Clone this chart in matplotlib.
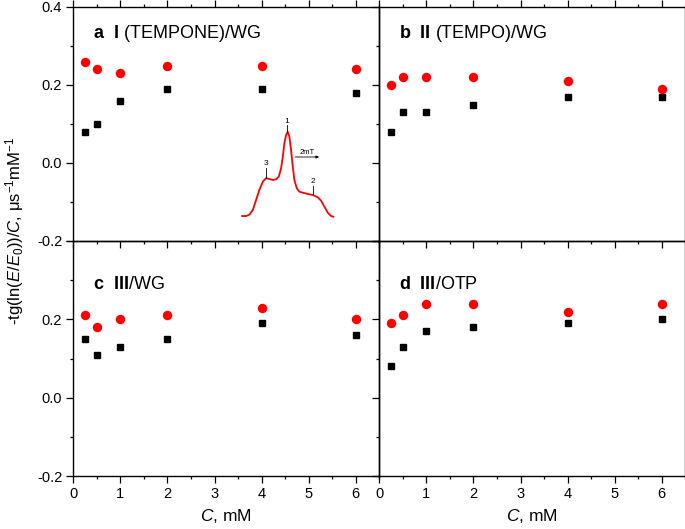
import matplotlib
matplotlib.use("Agg")
import matplotlib.pyplot as plt
from matplotlib.ticker import MultipleLocator, FixedLocator, FixedFormatter

plt.rcParams['font.family'] = ['Liberation Sans', 'DejaVu Sans']
plt.rcParams['mathtext.fontset'] = 'custom'
plt.rcParams['mathtext.rm'] = 'Liberation Sans'
plt.rcParams['mathtext.it'] = 'Liberation Sans:italic'
plt.rcParams['mathtext.bf'] = 'Liberation Sans:bold'

# ---- data ----
conc = [0.25, 0.5, 1, 2, 4, 6]
a_red = [0.26, 0.24, 0.23, 0.25, 0.25, 0.24]
a_black = [0.08, 0.10, 0.16, 0.19, 0.19, 0.18]
b_red = [0.20, 0.22, 0.22, 0.22, 0.21, 0.19]
b_black = [0.08, 0.13, 0.13, 0.15, 0.17, 0.17]
c_red = [0.21, 0.18, 0.20, 0.21, 0.23, 0.20]
c_black = [0.15, 0.11, 0.13, 0.15, 0.19, 0.16]
d_red = [0.19, 0.21, 0.24, 0.24, 0.22, 0.24]
d_black = [0.08, 0.13, 0.17, 0.18, 0.19, 0.20]

panel_letters = ['a', 'b', 'c', 'd']
panel_bold = ['I', 'II', 'III', 'III']
panel_names = [' (TEMPONE)/WG', ' (TEMPO)/WG', '/WG', '/OTP']

# traced ESR spectrum inset (panel a data coordinates)
esr_x = [3.585, 3.670, 3.740, 3.812, 3.882, 3.952, 4.025, 4.095, 4.165, 4.237,
         4.307, 4.365, 4.414, 4.450, 4.484, 4.520, 4.556, 4.590, 4.626, 4.662,
         4.696, 4.747, 4.802, 4.875, 4.981, 5.087, 5.193, 5.264, 5.334, 5.406,
         5.476, 5.525]
esr_y = [-0.136, -0.136, -0.1325, -0.1205, -0.095, -0.0692, -0.048, -0.039,
         -0.041, -0.0436, -0.0418, -0.035, -0.0136, 0.016, 0.0505, 0.0718,
         0.080, 0.0674, 0.0333, -0.0095, -0.0436, -0.0649, -0.0736, -0.0761,
         -0.0795, -0.082, -0.088, -0.0967, -0.112, -0.1274, -0.136, -0.1377]

W, H = 685, 529
fig = plt.figure(figsize=(W / 100, H / 100), dpi=100)

lx0, rx0, pw = 73.3, 379.3, 306.0
ty0, by0, ph = 7.0, 241.0, 235.0

def fbox(x0, y0, w, h):
    return [x0 / W, 1 - (y0 + h) / H, w / W, h / H]

axes = [fig.add_axes(fbox(lx0, ty0, pw, ph - 1)),
        fig.add_axes(fbox(rx0, ty0, pw, ph - 1)),
        fig.add_axes(fbox(lx0, by0, pw, ph)),
        fig.add_axes(fbox(rx0, by0, pw, ph))]

reds = [a_red, b_red, c_red, d_red]
blacks = [a_black, b_black, c_black, d_black]

for i, ax in enumerate(axes):
    ax.set_facecolor('none')
    ax.plot(conc, blacks[i], 's', color='black', markersize=5, zorder=3)
    ax.plot(conc, reds[i], 'o', color='#ff0000', markersize=6.8, zorder=3,
            markeredgewidth=0)
    ax.set_xlim(0, 6.5)
    ax.set_ylim(-0.2, 0.4)
    for sp in ax.spines.values():
        sp.set_linewidth(1.0)
    ax.xaxis.set_major_locator(MultipleLocator(1))
    ax.xaxis.set_minor_locator(MultipleLocator(0.5))
    ax.yaxis.set_major_locator(FixedLocator([-0.2, 0.0, 0.2, 0.4]))
    ax.yaxis.set_minor_locator(MultipleLocator(0.1))
    ax.tick_params(which='both', direction='out', labelsize=10.5, pad=3,
                   width=0.9)
    ax.tick_params(which='major', length=5)
    ax.tick_params(which='minor', length=2.5)
    top_row = i < 2
    left_col = i % 2 == 0
    if top_row:
        ax.tick_params(axis='x', which='both', top=True, labelbottom=False)
    if not left_col:
        ax.tick_params(axis='y', labelleft=False)
    if left_col:
        if top_row:
            ax.yaxis.set_major_formatter(FixedFormatter(['-0.2', '0.0', '0.2', '0.4']))
        else:
            ax.yaxis.set_major_formatter(FixedFormatter(['-0.2', '0.0', '0.2', '']))
    if not top_row:
        ax.set_xlabel('$C$, mM', fontsize=12.5, labelpad=4)
    ty = 0.321 if top_row else 0.277
    ax.text(0.42, ty,
            r'$\mathbf{' + panel_letters[i] + r'}$  $\mathbf{' + panel_bold[i] + '}$' + panel_names[i],
            fontsize=13, va='baseline', ha='left')

# inset ESR spectrum in panel a
ax = axes[0]
ax.plot(esr_x, esr_y, color='#ff0000', lw=1.3, zorder=2)
ax.plot([4.53, 4.53], [0.080, 0.097], color='black', lw=0.6)
ax.text(4.53, 0.098, '1', fontsize=6, ha='center', va='bottom')
ax.plot([4.10, 4.10], [-0.039, -0.012], color='black', lw=0.6)
ax.text(4.10, -0.011, '3', fontsize=6, ha='center', va='bottom')
ax.plot([5.09, 5.09], [-0.080, -0.058], color='black', lw=0.6)
ax.text(5.09, -0.057, '2', fontsize=6, ha='center', va='bottom')
ax.annotate('', xy=(5.22, 0.0154), xytext=(4.71, 0.0154),
            arrowprops=dict(arrowstyle='-|>', lw=0.6, color='black',
                            mutation_scale=4, shrinkA=0, shrinkB=0))
ax.text(4.96, 0.0175, '2mT', fontsize=5.5, ha='center', va='bottom')

fig.text(15 / W, 1 - 231 / H,
         r'-tg(ln($E$/$E_0$))/$C$, μs$^{-1}$mM$^{-1}$',
         rotation=90, ha='center', va='center', fontsize=12)

fig.savefig('out.png', dpi=100)
